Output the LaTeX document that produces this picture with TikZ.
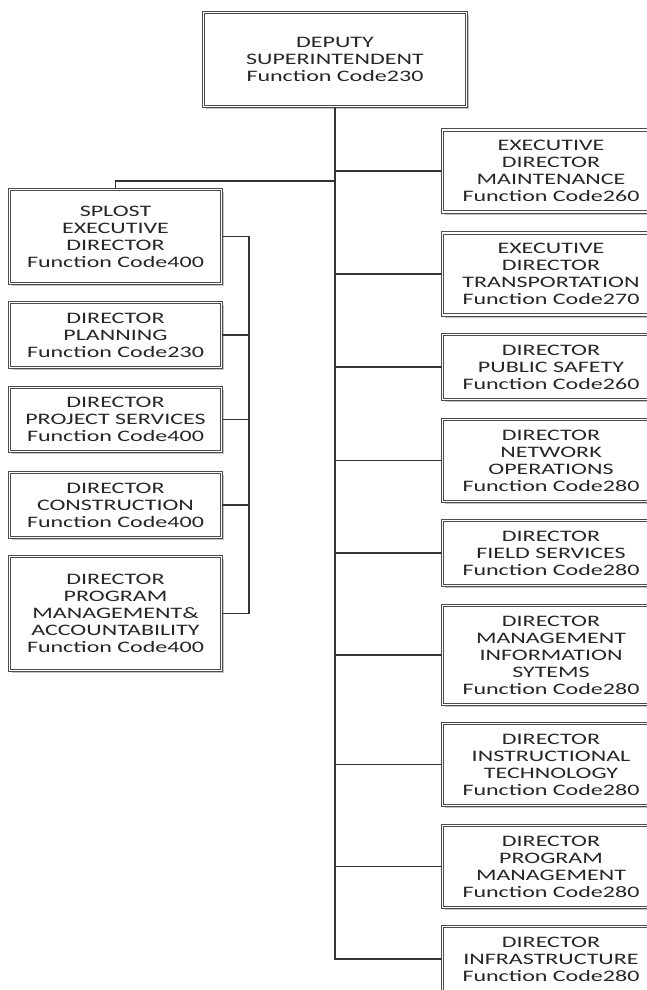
\documentclass[tikz,border=0pt]{standalone}
\usepackage{fontspec}
\setmainfont{Carlito}[FakeStretch=1.5]
\usetikzlibrary{shadows}

\tikzset{
  unit/.style = {draw = black!70, double = white, line width = 1.1pt, double distance = 1.2pt, fill = white, text = black!85, align = center, inner sep = 0pt, drop shadow = {shadow xshift = 2.5pt, shadow yshift = -2.5pt, fill = black!45}},
  link/.style = {draw = black!80, line width = 1.4pt}
}

\begin{document}
\begin{tikzpicture}[x = 1pt, y = -1pt, font = \fontsize{16}{17}\selectfont]
\useasboundingbox (0,0) rectangle (647,990);
\node [unit, minimum width = 263, minimum height = 94] (top) at (335,59.5) {DEPUTY\\SUPERINTENDENT\\Function Code230};
\foreach \nm/\y/\h/\txt in {
  mnt/171/82/{EXECUTIVE\\DIRECTOR\\MAINTENANCE\\Function Code260},
  trn/274/82/{EXECUTIVE\\DIRECTOR\\TRANSPORTATION\\Function Code270},
  saf/367/65/{DIRECTOR\\PUBLIC SAFETY\\Function Code260},
  net/460.5/82/{DIRECTOR\\NETWORK\\OPERATIONS\\Function Code280},
  fld/553/65/{DIRECTOR\\FIELD SERVICES\\Function Code280},
  mis/655/99/{DIRECTOR\\MANAGEMENT\\INFORMATION\\SYTEMS\\Function Code280},
  ins/764.5/82/{DIRECTOR\\INSTRUCTIONAL\\TECHNOLOGY\\Function Code280},
  prg/866.5/82/{DIRECTOR\\PROGRAM\\MANAGEMENT\\Function Code280},
  inf/959/65/{DIRECTOR\\INFRASTRUCTURE\\Function Code280}}
  \node [unit, minimum width = 217, minimum height = \h] (\nm) at (551,\y) {\txt};
\foreach \nm/\y/\h/\txt in {
  spl/236.5/94/{SPLOST\\EXECUTIVE\\DIRECTOR\\Function Code400},
  pln/335/65/{DIRECTOR\\PLANNING\\Function Code230},
  prj/419.5/64/{DIRECTOR\\PROJECT SERVICES\\Function Code400},
  con/505/65/{DIRECTOR\\CONSTRUCTION\\Function Code400},
  pma/613.5/114/{DIRECTOR\\PROGRAM\\MANAGEMENT\&\\ACCOUNTABILITY\\Function Code400}}
  \node [unit, minimum width = 212, minimum height = \h] (\nm) at (115.5,\y) {\txt};
% trunk and right side
\draw [link, line width = 1.9pt] (top.south) -- (top.south |- prg.west);
\draw [link] (top.south |- prg.west) |- (inf.west);
\foreach \nm in {mnt,trn,saf,net,fld,mis,ins,prg}
  \draw [link] (top.south |- \nm.west) -- (\nm.west);
% left side
\coordinate (split) at (335,181);
\coordinate (bus) at (249,0);
\draw [link] (split) -| (spl.north);
\draw [link] (spl.east) -| (bus |- pma.east) -- (pma.east);
\foreach \nm in {pln,prj,con}
  \draw [link] (\nm.east) -- (bus |- \nm.east);
\end{tikzpicture}
\end{document}
